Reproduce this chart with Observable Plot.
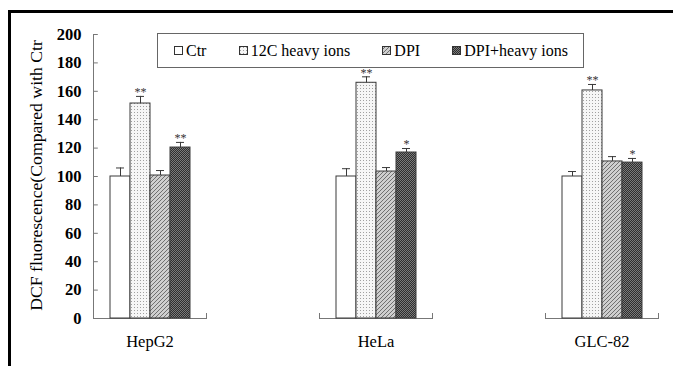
<!DOCTYPE html>
<html><head><meta charset="utf-8">
<script src="https://cdn.jsdelivr.net/npm/d3@7"></script>
<script src="https://cdn.jsdelivr.net/npm/@observablehq/plot@0.6"></script>
<style>
html,body{margin:0;padding:0;background:#fff;}
#wrap{position:relative;width:673px;height:366px;overflow:hidden;font-family:"Liberation Serif",serif;background:#fff;}
#wrap > svg.plot{position:absolute;left:0;top:0;}
#frame{position:absolute;left:8px;top:10px;width:800px;height:500px;border-left:3px solid #000;border-top:3px solid #000;pointer-events:none;}
#legend{position:absolute;left:157px;top:33px;width:427px;height:35px;box-sizing:border-box;border:1px solid #666;background:#fff;display:flex;align-items:center;justify-content:space-between;padding:0 15px 0 16px;color:#000;}
#legend span{font-family:"Liberation Serif",serif;font-size:16px;}
.item{display:flex;align-items:center;white-space:nowrap;}
.item svg{margin-right:3px;display:block;}
g[aria-label="y-axis tick label"]{font-weight:bold;font-size:16.5px;}
g[aria-label="fx-axis tick label"]{font-size:16.5px;}
</style></head><body>
<svg width="0" height="0" style="position:absolute">
<defs>
<pattern id="pat-dots" width="3" height="3" patternUnits="userSpaceOnUse">
<rect width="3" height="3" fill="#f6f6f6"/><rect x="1" y="1" width="1" height="1" fill="#a0a0a0"/>
</pattern>
<pattern id="pat-hatch" width="4" height="4" patternUnits="userSpaceOnUse">
<rect width="4" height="4" fill="#cfcfcf"/><path d="M-1,1 l2,-2 M0,4 l4,-4 M3,5 l2,-2" stroke="#707070" stroke-width="1"/>
</pattern>
<pattern id="pat-dark" width="2" height="2" patternUnits="userSpaceOnUse">
<rect width="2" height="2" fill="#7a7a7a"/><rect width="1" height="1" fill="#2e2e2e"/><rect x="1" y="1" width="1" height="1" fill="#2e2e2e"/>
</pattern>
</defs></svg>
<div id="wrap"></div>
<script>
// ---- data ----
const cells = ["HepG2", "HeLa", "GLC-82"];
const slots = ["HepG2", "gap1", "HeLa", "gap2", "GLC-82"];
const series = ["Ctr", "12C heavy ions", "DPI", "DPI+heavy ions"];
const ctr = [100, 100, 100];
const c12 = [151.4, 166, 160.6];
const dpi = [100.7, 103.5, 110.6];
const dpiHeavy = [120.4, 116.9, 109.8];
const ctrErr = [6, 5.5, 3.5];
const c12Err = [5, 4.2, 4.2];
const dpiErr = [3.5, 2.8, 3.4];
const dpiHeavyErr = [3.6, 2.8, 2.9];
const ctrSig = ["", "", ""];
const c12Sig = ["**", "**", "**"];
const dpiSig = ["", "", ""];
const dpiHeavySig = ["**", "*", "*"];
const yTicks = [0, 20, 40, 60, 80, 100, 120, 140, 160, 180, 200];
const yLabel = "DCF fluorescence(Compared with Ctr";
const fills = ["#ffffff", "url(#pat-dots)", "url(#pat-hatch)", "url(#pat-dark)"];

const valueSets = [ctr, c12, dpi, dpiHeavy];
const errSets = [ctrErr, c12Err, dpiErr, dpiHeavyErr];
const sigSets = [ctrSig, c12Sig, dpiSig, dpiHeavySig];
const rows = [];
cells.forEach((c, i) => series.forEach((s, j) => rows.push({
  cell: c, series: s, value: valueSets[j][i], hi: valueSets[j][i] + errSets[j][i], sig: sigSets[j][i]
})));

const axisColor = "#777";
const font = '"Liberation Serif",serif';
const chart = Plot.plot({
  width: 673, height: 366,
  marginLeft: 92, marginRight: 15, marginTop: 34, marginBottom: 48,
  style: {fontFamily: font, background: "transparent", color: "#000", overflow: "visible"},
  fx: {domain: slots, padding: 0, label: null},
  x: {domain: series, paddingInner: 0, paddingOuter: 0.72, axis: null},
  y: {domain: [0, 200]},
  color: {domain: series, range: fills},
  marks: [
    Plot.ruleY([0], {stroke: axisColor}),
    Plot.frame({anchor: "left", insetTop: 279, stroke: axisColor}),
    Plot.frame({anchor: "right", insetTop: 279, stroke: axisColor}),
    Plot.frame({anchor: "left", stroke: axisColor, fx: ["HepG2"]}),
    Plot.ruleY(yTicks, {fx: () => "HepG2", insetRight: 108.2, stroke: axisColor}),
    Plot.barY(rows, {fx: "cell", x: "series", y: "value", fill: "series", stroke: "#3a3a3a", strokeWidth: 1}),
    Plot.ruleX(rows, {fx: "cell", x: "series", y1: "value", y2: "hi", stroke: "#3a3a3a"}),
    Plot.tickY(rows, {fx: "cell", x: "series", y: "hi", stroke: "#3a3a3a", insetLeft: 6, insetRight: 6}),
    Plot.text(rows.filter(d => d.sig), {fx: "cell", x: "series", y: "hi", text: "sig", lineAnchor: "middle", dy: -4, fontSize: 12, fill: "#333"}),
    Plot.axisFx({anchor: "bottom", tickSize: 0, tickPadding: 17, tickFormat: d => cells.includes(d) ? d : "", label: null}),
    Plot.axisY({ticks: yTicks, tickSize: 0, tickPadding: 12, label: null, facetAnchor: "left"}),
    Plot.text([yLabel], {fx: () => "HepG2", text: d => d, frameAnchor: "left", rotate: -90, dx: -57, dy: -1, lineAnchor: "middle", textAnchor: "middle", fontSize: 17.7, fill: "#000"})
  ]
});
const wrap = document.getElementById("wrap");
chart.classList.add("plot");
wrap.appendChild(chart);

const frame = document.createElement("div");
frame.id = "frame";
wrap.appendChild(frame);

const legend = document.createElement("div");
legend.id = "legend";
series.forEach((s, j) => {
  const item = document.createElement("div");
  item.className = "item";
  item.innerHTML = `<svg width="9" height="9"><rect x="0.5" y="0.5" width="8" height="8" fill="${fills[j]}" stroke="#333" stroke-width="1"/></svg><span>${s}</span>`;
  legend.appendChild(item);
});
wrap.appendChild(legend);
</script>
</body></html>
